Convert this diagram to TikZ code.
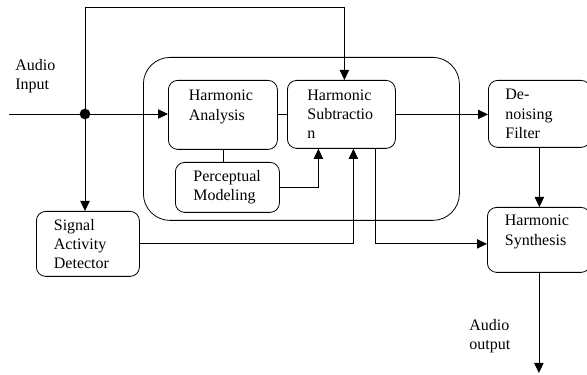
\documentclass[tikz,border=0pt]{standalone}
\usepackage{fontspec}
\setmainfont{Liberation Serif}
\usepackage{tikz}
\usetikzlibrary{arrows.meta}
\usetikzlibrary{positioning}

\tikzset{
    blk/.style={draw, rounded corners=7pt, anchor=north west, inner sep=0pt,
        text width=51pt, align=left, font=\fontsize{12}{14.4}\selectfont},
    lbl/.style={anchor=west, inner sep=0pt, align=left,
        font=\fontsize{12}{14.4}\selectfont},
}

\begin{document}
\begin{tikzpicture}[x=0.75pt,y=0.75pt,line width=0.6pt,>={Triangle[length=7.5pt,width=7pt]}]
    \useasboundingbox (0,0) rectangle (587,375);

    % Outer group
    \node (grp) [draw, rounded corners=20pt, anchor=north west, inner sep=0pt,
        minimum width=237pt, minimum height=122.25pt] at (143,318) {};

    % Draw blocks
    \node (ha) [blk, minimum width=81.75pt, minimum height=51.75pt] at (168,295) {Harmonic\\Analysis\\~};
    \node (hs) [blk, minimum width=81pt, minimum height=51pt] at (287,295) {Harmonic\\Subtractio\\n};
    \node (df) [blk, minimum width=76.5pt, minimum height=50.25pt] at (488,295) {De-\\noising\\Filter};
    \node (pm) [blk, minimum width=78pt, minimum height=37.5pt] at (175,213) {Perceptual\\Modeling};
    \node (sad) [blk, minimum width=77.25pt, minimum height=48.75pt] at (36,164) {Signal\\Activity\\Detector};
    \node (hsyn) [blk, minimum width=77.25pt, minimum height=48.75pt] at (487,168) {Harmonic\\Synthesis\\~};

    % Labels
    \node (inlbl) [lbl] at (15,298.5) {Audio\\Input};
    \node (outlbl) [lbl] at (469,38.5) {Audio\\output};

    % Input and branch point
    \coordinate (in) at (9,261);
    \coordinate (jn) at (85,261);
    \coordinate (out) at (538,2);
    \draw (in) -- (jn);
    \draw [->] (jn) -- (jn -| ha.west);
    \fill (jn) circle (4pt);
    \draw [->] (jn) -- (85,368) -| ([xshift=2.25pt]hs.north);
    \draw [->] (jn) -- (jn |- sad.north);

    % Connections
    \draw (ha.east) -- (ha.east -| hs.west);
    \draw (ha.south) -- (ha.south |- pm.north);
    \draw [->] (pm.east) -| ([xshift=-17.25pt]hs.south);
    \draw [->] (sad.east) -| ([xshift=9pt]hs.south);
    \draw [->] ([xshift=25.5pt]hs.south) |- (sad.east -| hsyn.west);
    \draw [->] (hs.east) -- (hs.east -| df.west);
    \draw [->] (df.south) -- (df.south |- hsyn.north);
    \draw [->] (hsyn.south) -- (hsyn.south |- out);
\end{tikzpicture}
\end{document}
